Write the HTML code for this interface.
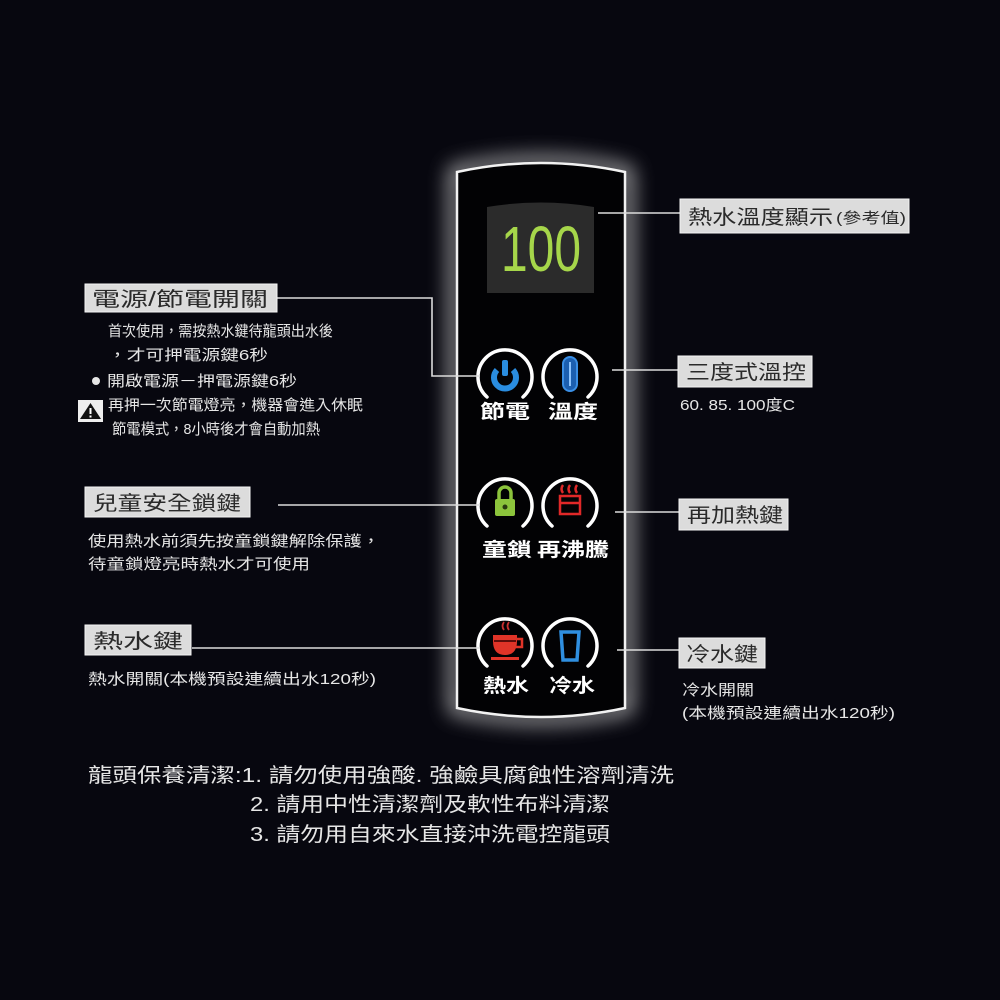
<!DOCTYPE html>
<html><head><meta charset="utf-8"><style>
html,body{margin:0;padding:0;background:#07070f;}
svg{display:block}
text{font-family:"Liberation Sans","Noto Sans CJK TC",sans-serif;}
</style></head><body>
<svg width="1000" height="1000" viewBox="0 0 1000 1000" xmlns="http://www.w3.org/2000/svg">
<defs>
<filter id="glow" x="-30%" y="-20%" width="160%" height="140%"><feGaussianBlur stdDeviation="10"/></filter>
</defs>
<rect width="1000" height="1000" fill="#07070f"/>
<!-- panel glow -->
<path d="M455,172 Q541,152 627,172 L627,708 Q541,728 455,708 Z" fill="none" stroke="#d0d0d0" stroke-width="12" filter="url(#glow)" opacity="0.85"/>
<path d="M457,172 Q541,154 625,172 L625,708 Q541,726 457,708 Z" fill="#020204" stroke="#f2f2f2" stroke-width="2.5"/>
<!-- display -->
<path d="M487,207 Q541,198 594,207 L594,293 L487,293 Z" fill="#2b2b2b"/>
<text x="541" y="271" text-anchor="middle" font-size="64" fill="#a6d64a" font-family="Liberation Sans Narrow,Liberation Sans,sans-serif" textLength="80" lengthAdjust="spacingAndGlyphs">100</text>
<!-- button arcs -->
<g fill="none" stroke="#ffffff" stroke-width="3.5" stroke-linecap="round">
<path d="M487,397 A27,27 0 1 1 523,397"/>
<path d="M552,397 A27,27 0 1 1 588,397"/>
<path d="M487,526 A27,27 0 1 1 523,526"/>
<path d="M552,526 A27,27 0 1 1 588,526"/>
<path d="M487,666 A27,27 0 1 1 523,666"/>
<path d="M552,666 A27,27 0 1 1 588,666"/>
</g>
<!-- power icon -->
<path d="M497,370 A11,11 0 1 0 513,370" fill="none" stroke="#2a8de0" stroke-width="6"/>
<rect x="502" y="360" width="6" height="16" rx="2" fill="#2a8de0"/>
<!-- thermometer -->
<rect x="563" y="357" width="14" height="34" rx="7" fill="#1c5fb0" stroke="#3a8fe6" stroke-width="2"/>
<line x1="570" y1="362" x2="570" y2="386" stroke="#8cc4ff" stroke-width="2"/>
<!-- lock -->
<path d="M499,500 v-7 a6,6 0 0 1 12,0 v7" fill="none" stroke="#8cc43c" stroke-width="3.5"/>
<rect x="495" y="499" width="20" height="17" rx="2" fill="#8cc43c"/>
<circle cx="505" cy="507" r="2.5" fill="#2a3a10"/>
<!-- boil -->
<g stroke="#e02828" stroke-width="2.5" fill="none">
<path d="M563,493 q-3,-4 0,-8 M570,493 q-3,-4 0,-8 M577,493 q-3,-4 0,-8"/>
<rect x="560" y="496" width="20" height="18"/>
<line x1="560" y1="503" x2="580" y2="503"/>
</g>
<!-- hot cup -->
<path d="M504,630 q-3,-4 0,-8 M509,630 q-3,-4 0,-8" stroke="#c83030" stroke-width="1.8" fill="none"/>
<path d="M493,635 h24 v6 q0,14 -12,14 q-12,0 -12,-14 z" fill="#e03428"/>
<path d="M517,639 h5 v8 h-6" fill="none" stroke="#e03428" stroke-width="2.5"/>
<rect x="491" y="657" width="28" height="3" fill="#e03428"/>
<line x1="494" y1="641" x2="516" y2="641" stroke="#300" stroke-width="1.5"/>
<!-- cold glass -->
<path d="M561,632 h18 l-2,28 h-14 z" fill="none" stroke="#2f8fe0" stroke-width="3.5"/>
<!-- button labels -->
<g fill="#ffffff" font-size="19" font-weight="bold">
<text x="480" y="418" textLength="50" lengthAdjust="spacingAndGlyphs">節電</text>
<text x="548" y="418" textLength="50" lengthAdjust="spacingAndGlyphs">溫度</text>
<text x="482" y="556" textLength="50" lengthAdjust="spacingAndGlyphs">童鎖</text>
<text x="537" y="556" textLength="72" lengthAdjust="spacingAndGlyphs">再沸騰</text>
<text x="483" y="692" textLength="46" lengthAdjust="spacingAndGlyphs">熱水</text>
<text x="549" y="692" textLength="46" lengthAdjust="spacingAndGlyphs">冷水</text>
</g>
<!-- connectors -->
<g stroke="#dcdcdc" stroke-width="1.6" fill="none">
<polyline points="598,213 680,213"/>
<polyline points="277,298 432,298 432,376 480,376"/>
<polyline points="612,370 678,370"/>
<polyline points="278,505 480,505"/>
<polyline points="615,512 679,512"/>
<polyline points="192,648 480,648"/>
<polyline points="617,650 679,650"/>
</g>
<!-- label boxes -->
<g fill="#dcdcdc" stroke="#f5f5f5" stroke-width="1">
<rect x="680" y="199" width="229" height="34"/>
<rect x="678" y="356" width="134" height="31"/>
<rect x="679" y="499" width="109" height="31"/>
<rect x="679" y="638" width="86" height="30"/>
<rect x="85" y="284" width="192" height="28"/>
<rect x="85" y="487" width="165" height="30"/>
<rect x="85" y="625" width="106" height="30"/>
</g>
<g fill="#2a2a2a" font-size="20">
<text x="688" y="224" textLength="145" lengthAdjust="spacingAndGlyphs">熱水溫度顯示</text>
<text x="836" y="223" font-size="15" textLength="70" lengthAdjust="spacingAndGlyphs">(參考值)</text>
<text x="686" y="379" textLength="120" lengthAdjust="spacingAndGlyphs">三度式溫控</text>
<text x="687" y="522" textLength="96" lengthAdjust="spacingAndGlyphs">再加熱鍵</text>
<text x="686" y="661" textLength="72" lengthAdjust="spacingAndGlyphs">冷水鍵</text>
<text x="92" y="306" textLength="176" lengthAdjust="spacingAndGlyphs">電源/節電開關</text>
<text x="93" y="510" textLength="148" lengthAdjust="spacingAndGlyphs">兒童安全鎖鍵</text>
<text x="93" y="648" textLength="90" lengthAdjust="spacingAndGlyphs">熱水鍵</text>
</g>
<!-- descriptions -->
<g fill="#e6e6e6" font-size="15">
<text x="108" y="336" textLength="225" lengthAdjust="spacingAndGlyphs">首次使用，需按熱水鍵待龍頭出水後</text>
<text x="108" y="360" textLength="160" lengthAdjust="spacingAndGlyphs">，才可押電源鍵6秒</text>
<circle cx="96" cy="381" r="4" fill="#e6e6e6"/>
<text x="107" y="386" textLength="190" lengthAdjust="spacingAndGlyphs">開啟電源－押電源鍵6秒</text>
<rect x="78" y="400" width="25" height="22" fill="#eeeeee"/>
<path d="M90.5,403 L101,419 L80,419 Z" fill="#111"/>
<rect x="89.5" y="408" width="2" height="6" fill="#fff"/>
<rect x="89.5" y="415.5" width="2" height="2" fill="#fff"/>
<text x="108" y="410" textLength="255" lengthAdjust="spacingAndGlyphs">再押一次節電燈亮，機器會進入休眠</text>
<text x="112" y="434" textLength="208" lengthAdjust="spacingAndGlyphs">節電模式，8小時後才會自動加熱</text>
<text x="88" y="546" textLength="292" lengthAdjust="spacingAndGlyphs">使用熱水前須先按童鎖鍵解除保護，</text>
<text x="88" y="569" textLength="222" lengthAdjust="spacingAndGlyphs">待童鎖燈亮時熱水才可使用</text>
<text x="88" y="684" textLength="288" lengthAdjust="spacingAndGlyphs">熱水開關(本機預設連續出水120秒)</text>
<text x="680" y="410" textLength="115" lengthAdjust="spacingAndGlyphs">60. 85. 100度C</text>
<text x="682" y="695" textLength="72" lengthAdjust="spacingAndGlyphs">冷水開關</text>
<text x="682" y="718" textLength="213" lengthAdjust="spacingAndGlyphs">(本機預設連續出水120秒)</text>
</g>
<!-- bottom care text -->
<g fill="#e6e6e6" font-size="20">
<text x="88" y="782" textLength="586" lengthAdjust="spacingAndGlyphs">龍頭保養清潔:1. 請勿使用強酸. 強鹼具腐蝕性溶劑清洗</text>
<text x="250" y="811" textLength="360" lengthAdjust="spacingAndGlyphs">2. 請用中性清潔劑及軟性布料清潔</text>
<text x="250" y="841" textLength="360" lengthAdjust="spacingAndGlyphs">3. 請勿用自來水直接沖洗電控龍頭</text>
</g>
</svg>
</body></html>
